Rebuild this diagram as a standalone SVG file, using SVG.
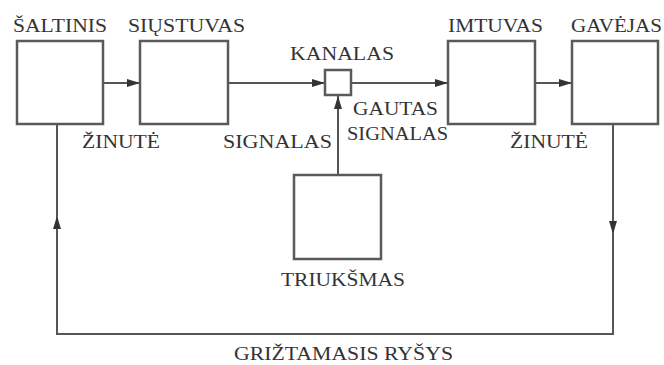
<svg xmlns="http://www.w3.org/2000/svg" width="664" height="365" viewBox="0 0 664 365">
<style>
.box{fill:#fff;stroke:#5a5a5a;stroke-width:2.5}
.ln{fill:none;stroke:#555;stroke-width:2}
text{font-size:18px;fill:#333}
</style>
<defs>
<marker id="ah" markerUnits="userSpaceOnUse" markerWidth="14" markerHeight="10" refX="13" refY="5" orient="auto">
<path d="M0,1 L13,5 L0,9 Z" fill="#333"/>
</marker>
</defs>
<rect width="664" height="365" fill="#fff"/>
<g id="connectors">
<path class="ln" d="M103,83 H140" marker-end="url(#ah)"/>
<path class="ln" d="M228,83 H325" marker-end="url(#ah)"/>
<path class="ln" d="M351,83 H448" marker-end="url(#ah)"/>
<path class="ln" d="M535,83 H572" marker-end="url(#ah)"/>
<path class="ln" d="M338,175 V96" marker-end="url(#ah)"/>
<path class="ln" d="M613,124 V234" marker-end="url(#ah)"/>
<path class="ln" d="M613,232 V334 H57 V216" marker-end="url(#ah)"/>
<path class="ln" d="M57,218 V124"/>
</g>
<g font-family="Liberation Serif, Times New Roman, serif">
<g id="saltinis">
<rect class="box" x="17" y="41" width="86" height="83"/>
<text x="13" y="32" textLength="94" lengthAdjust="spacingAndGlyphs">ŠALTINIS</text>
</g>
<g id="siustuvas">
<rect class="box" x="140" y="41" width="88" height="83"/>
<text x="128" y="32" textLength="117" lengthAdjust="spacingAndGlyphs">SIŲSTUVAS</text>
</g>
<g id="kanalas">
<rect class="box" x="325" y="70" width="26" height="25"/>
<text x="290" y="60" textLength="104" lengthAdjust="spacingAndGlyphs">KANALAS</text>
</g>
<g id="imtuvas">
<rect class="box" x="448" y="41" width="87" height="83"/>
<text x="448" y="32" textLength="95" lengthAdjust="spacingAndGlyphs">IMTUVAS</text>
</g>
<g id="gavejas">
<rect class="box" x="572" y="41" width="86" height="83"/>
<text x="571" y="32" textLength="91" lengthAdjust="spacingAndGlyphs">GAVĖJAS</text>
</g>
<g id="triuksmas">
<rect class="box" x="294" y="175" width="87" height="84"/>
<text x="281" y="286" textLength="124" lengthAdjust="spacingAndGlyphs">TRIUKŠMAS</text>
</g>
<g id="labels">
<text x="82" y="148" textLength="78" lengthAdjust="spacingAndGlyphs">ŽINUTĖ</text>
<text x="223" y="148" textLength="109" lengthAdjust="spacingAndGlyphs">SIGNALAS</text>
<text x="353" y="115" textLength="85" lengthAdjust="spacingAndGlyphs">GAUTAS</text>
<text x="347" y="140" textLength="101" lengthAdjust="spacingAndGlyphs">SIGNALAS</text>
<text x="510" y="148" textLength="78" lengthAdjust="spacingAndGlyphs">ŽINUTĖ</text>
<text x="234" y="360" textLength="219" lengthAdjust="spacingAndGlyphs">GRIŽTAMASIS RYŠYS</text>
</g>
</g>
</svg>
